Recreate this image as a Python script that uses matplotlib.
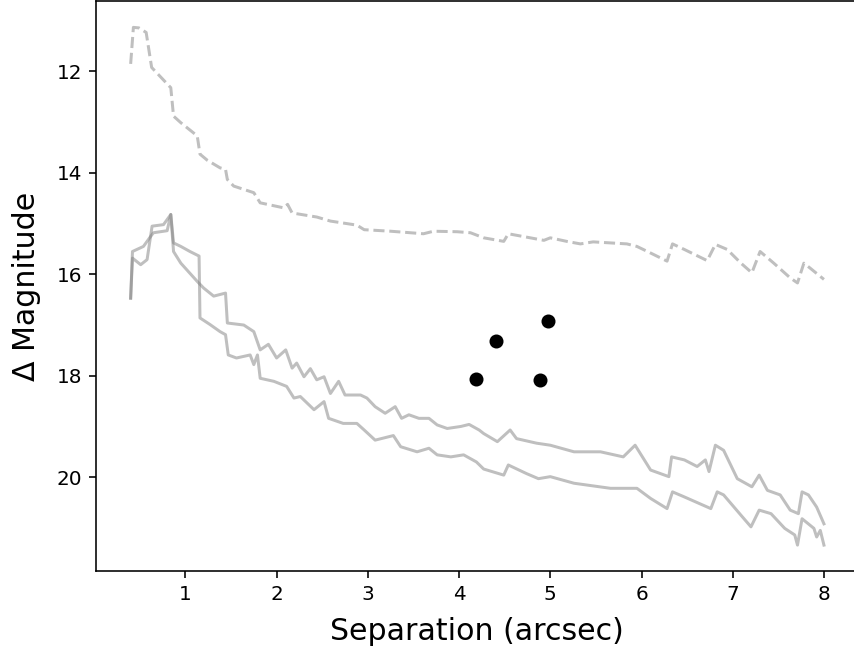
import numpy as np
import matplotlib
matplotlib.use("Agg")
import matplotlib.pyplot as plt

# detection limit curve (dashed, upper)
sep_dash = [0.40, 0.43, 0.49, 0.57, 0.63, 0.84, 0.87, 0.95, 1.13, 1.16, 1.24, 1.38, 1.44,
            1.46, 1.53, 1.75, 1.82, 2.08, 2.12, 2.17, 2.44, 2.59, 2.88, 2.96, 3.25, 3.61,
            3.72, 3.98, 4.125, 4.27, 4.49, 4.54, 4.63, 4.93, 5.00, 5.18, 5.33, 5.47, 5.84,
            5.95, 6.10, 6.28, 6.34, 6.47, 6.72, 6.81, 6.94, 7.09, 7.21, 7.30, 7.45, 7.63,
            7.71, 7.78, 7.85, 8.00]
mag_dash = [11.85, 11.13, 11.14, 11.23, 11.92, 12.32, 12.88, 13.01, 13.27, 13.63, 13.75,
            13.90, 13.93, 14.13, 14.26, 14.39, 14.59, 14.69, 14.62, 14.79, 14.87, 14.95,
            15.03, 15.12, 15.15, 15.20, 15.15, 15.16, 15.18, 15.28, 15.35, 15.20, 15.23,
            15.33, 15.28, 15.35, 15.40, 15.36, 15.40, 15.45, 15.58, 15.74, 15.40, 15.51,
            15.73, 15.41, 15.51, 15.78, 15.97, 15.55, 15.78, 16.07, 16.17, 15.78, 15.88,
            16.10]

# contrast curve 1 (solid, shallower)
sep_a = [0.40, 0.42, 0.54, 0.62, 0.65, 0.80, 0.84, 0.87, 0.95, 1.13, 1.20, 1.31, 1.44,
         1.46, 1.64, 1.75, 1.82, 1.91, 2.00, 2.10, 2.17, 2.22, 2.30, 2.37, 2.44, 2.52,
         2.59, 2.68, 2.75, 2.92, 2.99, 3.08, 3.19, 3.30, 3.37, 3.45, 3.56, 3.67, 3.76,
         3.87, 4.02, 4.11, 4.22, 4.27, 4.42, 4.56, 4.63, 4.85, 5.00, 5.26, 5.55, 5.80,
         5.93, 6.10, 6.30, 6.33, 6.47, 6.61, 6.70, 6.74, 6.81, 6.90, 7.05, 7.21, 7.29,
         7.38, 7.52, 7.63, 7.72, 7.76, 7.83, 7.92, 8.00]
mag_a = [16.47, 15.55, 15.45, 15.25, 15.18, 15.14, 14.82, 15.55, 15.78, 16.14, 16.27,
         16.43, 16.37, 16.96, 17.00, 17.13, 17.49, 17.38, 17.65, 17.49, 17.85, 17.75,
         18.02, 17.86, 18.08, 18.02, 18.35, 18.11, 18.38, 18.38, 18.44, 18.61, 18.74,
         18.61, 18.84, 18.77, 18.84, 18.84, 18.97, 19.04, 19.00, 18.96, 19.07, 19.14,
         19.30, 19.07, 19.24, 19.33, 19.37, 19.50, 19.50, 19.60, 19.37, 19.86, 19.99,
         19.60, 19.66, 19.79, 19.66, 19.89, 19.37, 19.47, 20.03, 20.19, 19.96, 20.26,
         20.35, 20.65, 20.72, 20.29, 20.35, 20.59, 20.92]

# contrast curve 2 (solid, deeper)
sep_b = [0.40, 0.42, 0.51, 0.58, 0.635, 0.76, 0.84, 0.87, 0.95, 1.05, 1.15, 1.16, 1.27,
         1.38, 1.44, 1.47, 1.56, 1.71, 1.75, 1.79, 1.82, 1.97, 2.11, 2.19, 2.26, 2.41,
         2.52, 2.57, 2.73, 2.88, 2.96, 3.08, 3.28, 3.36, 3.54, 3.67, 3.76, 3.91, 4.05,
         4.19, 4.27, 4.49, 4.54, 4.74, 4.87, 5.00, 5.26, 5.66, 5.95, 6.10, 6.28, 6.34,
         6.47, 6.76, 6.83, 6.90, 7.09, 7.20, 7.29, 7.42, 7.57, 7.68, 7.71, 7.76, 7.89,
         7.92, 7.96, 8.00]
mag_b = [16.47, 15.68, 15.81, 15.71, 15.05, 15.02, 14.82, 15.38, 15.45, 15.55, 15.64,
         16.86, 16.99, 17.13, 17.19, 17.59, 17.65, 17.59, 17.78, 17.59, 18.05, 18.11,
         18.21, 18.44, 18.41, 18.67, 18.51, 18.84, 18.94, 18.94, 19.07, 19.27, 19.18,
         19.40, 19.50, 19.43, 19.56, 19.60, 19.56, 19.70, 19.84, 19.96, 19.76, 19.93,
         20.03, 19.99, 20.12, 20.22, 20.22, 20.42, 20.62, 20.29, 20.39, 20.62, 20.29,
         20.35, 20.75, 20.98, 20.65, 20.72, 21.01, 21.14, 21.34, 20.82, 21.01, 21.18,
         21.05, 21.34]

# detected companions
sep_pts = [4.19, 4.41, 4.97, 4.89]
mag_pts = [18.06, 17.31, 16.93, 18.09]

fig = plt.figure(figsize=(854 / 144, 649 / 144), dpi=144)
ax = fig.add_axes([0.1124, 0.1202, 0.893, 0.8775])

ax.plot(sep_dash, mag_dash, '--', color='gray', alpha=0.5)
ax.plot(sep_a, mag_a, '-', color='gray', alpha=0.5)
ax.plot(sep_b, mag_b, '-', color='gray', alpha=0.5)
ax.plot(sep_pts, mag_pts, 'ko')

ax.invert_yaxis()
ax.set_xlabel('Separation (arcsec)', fontsize=15, labelpad=6.5)
ax.set_ylabel('Δ Magnitude', fontsize=15, labelpad=7.5)

fig.savefig('out.png', dpi=144)
